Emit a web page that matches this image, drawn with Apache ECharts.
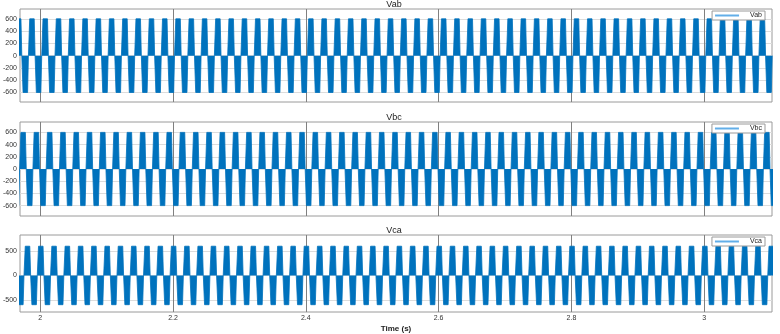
<!DOCTYPE html>
<html>
<head>
<meta charset="utf-8">
<title>Vab Vbc Vca</title>
<script src="https://cdn.jsdelivr.net/npm/echarts@6.0.0/dist/echarts.min.js"></script>
<style>
    html,body{margin:0;padding:0;background:#fff;}
    #main{width:780px;height:334px;}
</style>
</head>
<body>
<div id="main"></div>
<script>
//通道名称
var channelNames = ['Vab', 'Vbc', 'Vca'];
//时间刻度
var timeTicks = [2, 2.2, 2.4, 2.6, 2.8, 3];
//纵轴刻度
var vabTicks = [-600, -400, -200, 0, 200, 400, 600];
var vbcTicks = [-600, -400, -200, 0, 200, 400, 600];
var vcaTicks = [-500, 0, 500];
//基波周期(s)，由条带间距读出
var period = 0.02;
//每个通道第一个正条带中心(s)
var firstPositiveBand = [1.9876, 1.9943, 1.9809];
//条带幅值(V)
var bandLevel = [600, 600, 600];
//一个基波周期内的开关包络：相对正条带中心的时间偏移(s) 和 幅值比例
var cycleOffsets = [-0.0047, -0.0034, 0.0034, 0.0047, 0.0053, 0.0066, 0.0134, 0.0147];
var cycleLevels  = [0, 1, 1, 0, 0, -1, -1, 0];

var timeMin = 1.9696, timeMax = 3.102;
var lineColor = '#0072BD';

//把包络按周期排开
function buildSeries(idx){
    var pts = [];
    for (var k = -2; k < 60; k++) {
        var c = firstPositiveBand[idx] + k * period;
        if (c - 0.005 > timeMax) break;
        for (var j = 0; j < cycleOffsets.length; j++) {
            pts.push([c + cycleOffsets[j], cycleLevels[j] * bandLevel[idx]]);
        }
    }
    return pts;
}

var grids = [
    {left: 16, right: 8, top: 9, height: 93},
    {left: 16, right: 8, top: 122, height: 94},
    {left: 16, right: 8, top: 235, height: 79}
];
var yRanges = [[-755, 760], [-770, 770], [-750, 830]];
var yTicks = [vabTicks, vbcTicks, vcaTicks];
var titleTops = [0, 113, 226];
var legendTops = [11, 124, 237];

var option = {
    backgroundColor: '#fff',
    animation: false,
    title: [],
    legend: [],
    grid: [],
    xAxis: [],
    yAxis: [],
    series: []
};

for (var i = 0; i < 3; i++) {
    var g = grids[i];
    option.grid.push({
        left: g.left, right: g.right, top: g.top, height: g.height,
        show: true, borderColor: '#9a9a9a', borderWidth: 1, backgroundColor: '#fff'
    });
    option.title.push({
        text: channelNames[i],
        left: 394, top: titleTops[i], padding: 0,
        textAlign: 'center',
        textStyle: {fontSize: 9, fontWeight: 'normal', color: '#222', fontFamily: 'Liberation Sans'}
    });
    option.legend.push({
        data: [{name: channelNames[i], icon: 'rect'}],
        right: 15, top: legendTops[i],
        orient: 'vertical',
        padding: [1, 3, 1, 3],
        itemWidth: 24, itemHeight: 2, itemGap: 0,
        itemStyle: {color: '#62aee8', borderWidth: 0},
        borderColor: '#9a9a9a', borderWidth: 1, borderRadius: 0,
        backgroundColor: '#fff',
        textStyle: {fontSize: 7, color: '#222', fontFamily: 'Liberation Sans', padding: [0, 0, 0, 6]}
    });
    option.xAxis.push({
        type: 'value', gridIndex: i,
        min: timeMin, max: timeMax,
        axisLine: {show: false},
        axisTick: {show: false, customValues: timeTicks},
        axisLabel: {
            show: i == 2, customValues: timeTicks, fontSize: 7, color: '#333', margin: 3,
            fontFamily: 'Liberation Sans'
        },
        splitLine: {show: true, lineStyle: {color: '#808080', width: 1}},
        name: i == 2 ? 'Time (s)' : '',
        nameLocation: 'middle', nameGap: 13,
        nameTextStyle: {fontSize: 8, fontWeight: 'bold', color: '#222', fontFamily: 'Liberation Sans'}
    });
    option.yAxis.push({
        type: 'value', gridIndex: i,
        min: yRanges[i][0], max: yRanges[i][1],
        axisLine: {show: false},
        axisTick: {show: false, customValues: yTicks[i]},
        axisLabel: {customValues: yTicks[i], fontSize: 7, color: '#333', margin: 3, fontFamily: 'Liberation Sans'},
        splitLine: {show: true, lineStyle: {color: '#dcdcdc', width: 1}}
    });
    option.series.push({
        name: channelNames[i],
        type: 'line',
        xAxisIndex: i, yAxisIndex: i,
        data: buildSeries(i),
        symbol: 'none',
        lineStyle: {color: lineColor, width: 0.8},
        itemStyle: {color: lineColor},
        areaStyle: {color: lineColor, opacity: 1},
        clip: true
    });
}

var chart = echarts.init(document.getElementById('main'));
chart.setOption(option);
</script>
</body>
</html>
